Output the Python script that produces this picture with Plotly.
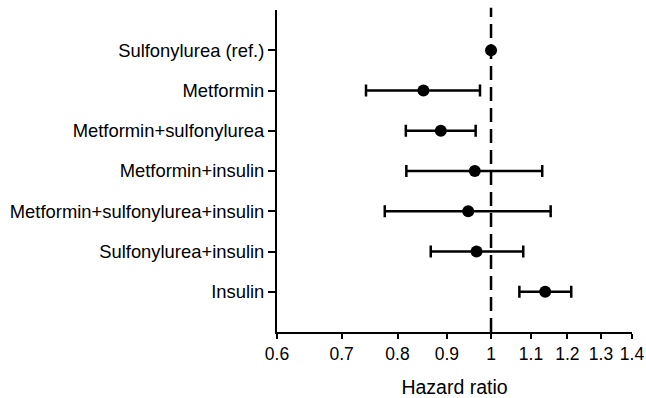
import math
import plotly.graph_objects as go

categories = ["Sulfonylurea (ref.)", "Metformin", "Metformin+sulfonylurea",
              "Metformin+insulin", "Metformin+sulfonylurea+insulin",
              "Sulfonylurea+insulin", "Insulin"]
hr = [1.0, 0.851, 0.887, 0.962, 0.947, 0.966, 1.138]
ci_low = [1.0, 0.742, 0.816, 0.817, 0.776, 0.866, 1.070]
ci_high = [1.0, 0.974, 0.964, 1.130, 1.153, 1.080, 1.211]
x_ticks = [0.6, 0.7, 0.8, 0.9, 1, 1.1, 1.2, 1.3, 1.4]
x_tick_text = ["0.6", "0.7", "0.8", "0.9", "1", "1.1", "1.2", "1.3", "1.4"]

n = len(categories)
ypos = [n - i for i in range(n)]

fig = go.Figure()
fig.add_shape(type="line", x0=1, x1=1, xref="x", y0=0, y1=1.007, yref="paper",
              line=dict(color="black", width=2.5, dash="14px,7px"), layer="below")

has_ci = [lo != hi for lo, hi in zip(ci_low, ci_high)]
fig.add_trace(go.Scatter(
    x=hr, y=ypos, mode="markers",
    marker=dict(color="black", size=12),
    error_x=dict(type="data", symmetric=False,
                 array=[(h - m) if c else 0 for h, m, c in zip(ci_high, hr, has_ci)],
                 arrayminus=[(m - l) if c else 0 for l, m, c in zip(ci_low, hr, has_ci)],
                 color="black", thickness=2.5, width=6, visible=True),
    showlegend=False, hoverinfo="skip"))

fig.update_layout(
    width=646, height=398,
    margin=dict(l=277, r=14, t=10, b=66),
    plot_bgcolor="white", paper_bgcolor="white",
    font=dict(family="Liberation Sans, Arial", size=18.4, color="black"),
    xaxis=dict(type="log", range=[math.log10(0.6), math.log10(1.4)],
               tickvals=x_ticks, ticktext=x_tick_text, automargin=False,
               showline=True, linecolor="black", linewidth=2,
               ticks="outside", ticklen=5, tickwidth=2, tickcolor="black",
               tickfont=dict(size=17.5),
               showgrid=False, zeroline=False,
               title=dict(text="Hazard ratio", standoff=18,
                          font=dict(size=19.5))),
    yaxis=dict(range=[0, n + 1], tickvals=ypos, ticktext=categories,
               automargin=False,
               showline=True, linecolor="black", linewidth=2,
               ticks="outside", ticklen=7, tickwidth=2, tickcolor="black",
               showgrid=False, zeroline=False),
)

fig.write_html("out.html",
               config={"displayModeBar": False, "staticPlot": True},
               post_script="document.body.style.margin='0';"
                           "document.body.style.overflow='hidden';")
